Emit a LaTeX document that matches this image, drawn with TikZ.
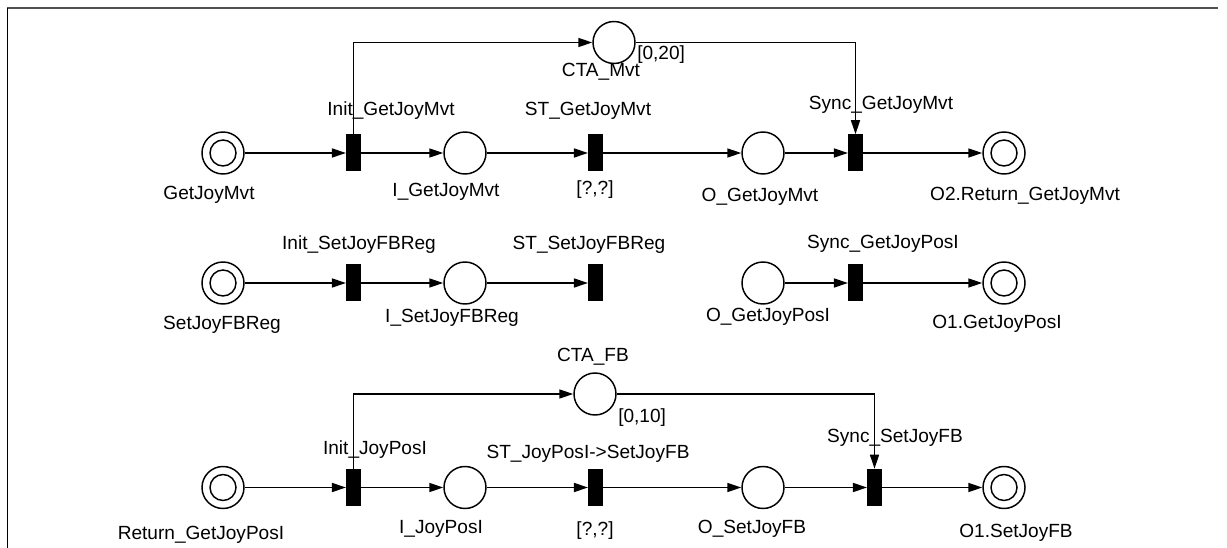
\documentclass[tikz,border=0pt]{standalone}
\usepackage{fontspec}
\setmainfont{Liberation Sans}
\usetikzlibrary{arrows.meta}
\tikzset{
  place/.style={circle, draw, line width=1.1pt, minimum size=31.5pt, inner sep=0pt},
  trans/.style={rectangle, fill=black, draw=none, minimum width=10.9pt, minimum height=27.75pt, inner sep=0pt},
  arc/.style={line width=1.1pt, -{Triangle[length=10.5pt,width=6.75pt]}},
  lbl/.style={anchor=base, inner sep=0pt, font=\fontsize{14.3pt}{16pt}\selectfont},
  lbll/.style={lbl, anchor=base west},
}
\newcommand{\innerring}[1]{\draw[line width=1.1pt] (#1.center) circle[radius=9.75pt];}
\begin{document}
\begin{tikzpicture}[x=0.75pt,y=-0.75pt]
\useasboundingbox (0,0) rectangle (1227,548);
% frame
\draw[line width=1.5pt, draw={rgb,255:red,80;green,80;blue,80}] (7,8) -- (1218,8);
\draw[line width=0.75pt] (7,8) -- (7,548);

% ---------- row 1 ----------
\node[place] (p11) at (223,153) {}; \innerring{p11}
\node[trans] (t11) at (353.5,153) {};
\node[place] (p12) at (465,153) {};
\node[trans] (t12) at (595.5,153) {};
\node[place] (p13) at (763,153) {};
\node[trans] (t13) at (855.5,153) {};
\node[place] (p14) at (1004,153) {}; \innerring{p14}
\node[place] (cm) at (614,42.5) {};

\draw[arc] (p11) -- (t11);
\draw[arc] (t11) -- (p12);
\draw[arc] (p12) -- (t12);
\draw[arc] (t12) -- (p13);
\draw[arc] (p13) -- (t13);
\draw[arc] (t13) -- (p14);
\draw[arc] (t11.north) |- (cm.west);
\draw[arc] (cm.east) -| (t13.north);

\node[lbl] (l11) at (209,200) {GetJoyMvt};
\node[lbl] (l12) at (391,116) {Init\_GetJoyMvt};
\node[lbl] (l13) at (446,197) {I\_GetJoyMvt};
\node[lbl] (l14) at (588,116) {ST\_GetJoyMvt};
\node[lbl] (l15) at (595,195) {[?,?]};
\node[lbl] (l16) at (760,202) {O\_GetJoyMvt};
\node[lbl] (l17) at (881,110) {Sync\_GetJoyMvt};
\node[lbl] (l18) at (1025,201) {O2.Return\_GetJoyMvt};
\node[lbl] (l19) at (601,77) {CTA\_Mvt};
\node[lbll] (l1a) at (637,60) {[0,20]};

% ---------- row 2 ----------
\node[place] (p21) at (223,283) {}; \innerring{p21}
\node[trans] (t21) at (353.5,283) {};
\node[place] (p22) at (465,283) {};
\node[trans] (t22) at (595.5,283) {};
\node[place] (p23) at (763,283) {};
\node[trans] (t23) at (855.5,283) {};
\node[place] (p24) at (1004,283) {}; \innerring{p24}

\draw[arc] (p21) -- (t21);
\draw[arc] (t21) -- (p22);
\draw[arc] (p22) -- (t22);
\draw[arc] (p23) -- (t23);
\draw[arc] (t23) -- (p24);

\node[lbl] (l21) at (222,330) {SetJoyFBReg};
\node[lbl] (l22) at (359,250) {Init\_SetJoyFBReg};
\node[lbl] (l23) at (452,323) {I\_SetJoyFBReg};
\node[lbl] (l24) at (589,250) {ST\_SetJoyFBReg};
\node[lbl] (l25) at (768,322) {O\_GetJoyPosI};
\node[lbl] (l26) at (883,249) {Sync\_GetJoyPosI};
\node[lbl] (l27) at (997,329) {O1.GetJoyPosI};

% ---------- row 3 ----------
\node[place] (p31) at (223,487.5) {}; \innerring{p31}
\node[trans] (t31) at (353.5,487.5) {};
\node[place] (p32) at (465,487.5) {};
\node[trans] (t32) at (595.5,487.5) {};
\node[place] (p33) at (763,487.5) {};
\node[trans] (t33) at (874.5,487.5) {};
\node[place] (p34) at (1004,487.5) {}; \innerring{p34}
\node[place] (cf) at (595,394) {};

\draw[arc] (p31) -- (t31);
\draw[arc] (t31) -- (p32);
\draw[arc] (p32) -- (t32);
\draw[arc] (t32) -- (p33);
\draw[arc] (p33) -- (t33);
\draw[arc] (t33) -- (p34);
\draw[arc] (t31.north) |- (cf.west);
\draw[arc] (cf.east) -| (t33.north);

\node[lbl] (l31) at (593,362) {CTA\_FB};
\node[lbll] (l32) at (618,422) {[0,10]};
\node[lbl] (l33) at (375,455) {Init\_JoyPosI};
\node[lbl] (l34) at (588,458) {ST\_JoyPosI->SetJoyFB};
\node[lbl] (l35) at (895,442) {Sync\_SetJoyFB};
\node[lbl] (l36) at (201,539) {Return\_GetJoyPosI};
\node[lbl] (l37) at (441,533) {I\_JoyPosI};
\node[lbl] (l38) at (595,535) {[?,?]};
\node[lbl] (l39) at (752,533) {O\_SetJoyFB};
\node[lbl] (l3a) at (1016,537) {O1.SetJoyFB};
\end{tikzpicture}
\end{document}
